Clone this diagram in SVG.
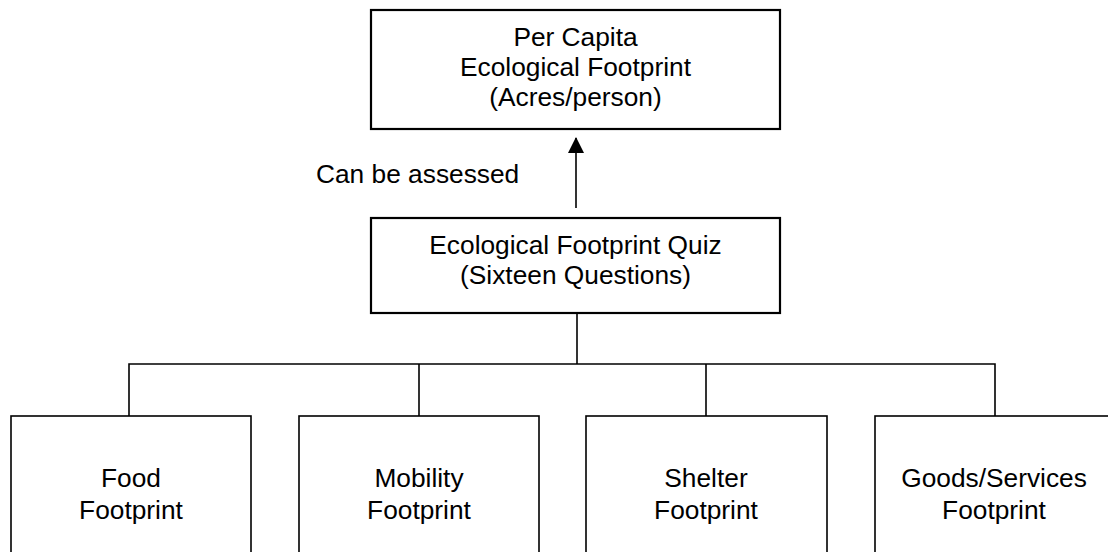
<svg xmlns="http://www.w3.org/2000/svg" width="1108" height="552" viewBox="0 0 1108 552">
<style>
.box{fill:#fff;stroke:#000;stroke-width:2.2}
.sub{fill:#fff;stroke:#000;stroke-width:1.6}
.t{font-family:"Liberation Sans",Arial,sans-serif;font-size:26.3px;fill:#000;text-anchor:middle}
.c{fill:none;stroke:#000;stroke-width:1.6}
</style>
<defs>
<marker id="ah" markerWidth="16" markerHeight="16" refX="15" refY="8" orient="auto" markerUnits="userSpaceOnUse" viewBox="0 0 16 16">
<path d="M0,0 L16,8 L0,16 Z" fill="#000"/>
</marker>
</defs>
<rect width="1108" height="552" fill="#fff"/>
<g id="connectors">
<line class="c" x1="576" y1="208" x2="576" y2="138" marker-end="url(#ah)"/>
<line class="c" x1="577" y1="313" x2="577" y2="364"/>
<polyline class="c" points="129,416 129,364 995,364 995,416"/>
<line class="c" x1="419" y1="364" x2="419" y2="416"/>
<line class="c" x1="706" y1="364" x2="706" y2="416"/>
<text class="t" x="316" y="183" style="text-anchor:start">Can be assessed</text>
</g>
<g id="per-capita">
<rect class="box" x="371" y="10" width="409" height="119"/>
<text class="t" x="575.5" y="46">Per Capita</text>
<text class="t" x="575.5" y="76">Ecological Footprint</text>
<text class="t" x="575.5" y="106">(Acres/person)</text>
</g>
<g id="quiz">
<rect class="box" x="371" y="218" width="409" height="95"/>
<text class="t" x="575.5" y="254">Ecological Footprint Quiz</text>
<text class="t" x="575.5" y="284">(Sixteen Questions)</text>
</g>
<g id="food">
<rect class="sub" x="11" y="416" width="240" height="150"/>
<text class="t" x="131" y="487">Food</text>
<text class="t" x="131" y="519">Footprint</text>
</g>
<g id="mobility">
<rect class="sub" x="299" y="416" width="240" height="150"/>
<text class="t" x="419" y="487">Mobility</text>
<text class="t" x="419" y="519">Footprint</text>
</g>
<g id="shelter">
<rect class="sub" x="586" y="416" width="241" height="150"/>
<text class="t" x="706" y="487">Shelter</text>
<text class="t" x="706" y="519">Footprint</text>
</g>
<g id="goods">
<rect class="sub" x="875" y="416" width="240" height="150"/>
<text class="t" x="994" y="487">Goods/Services</text>
<text class="t" x="994" y="519">Footprint</text>
</g>
</svg>
